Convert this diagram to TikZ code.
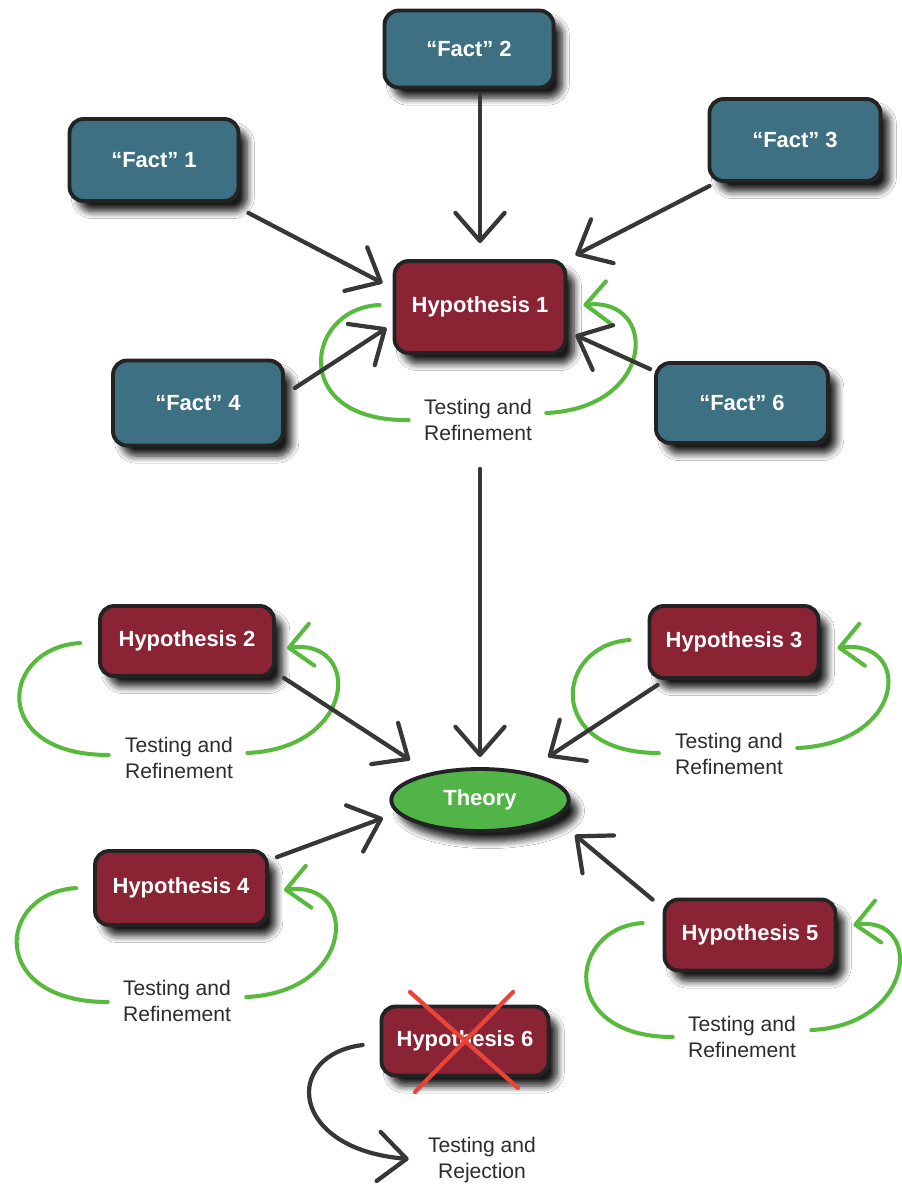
\documentclass[tikz,border=0pt]{standalone}
\usepackage{fontspec}
\setmainfont{Liberation Sans}
\usetikzlibrary{arrows.meta,shapes.geometric,calc,shadows.blur}
\definecolor{factc}{RGB}{61,112,130}
\definecolor{hypc}{RGB}{138,36,52}
\definecolor{theoc}{RGB}{80,180,70}
\definecolor{loopc}{RGB}{88,186,60}
\definecolor{bordc}{RGB}{35,35,35}
\definecolor{arrc}{RGB}{55,55,55}
\definecolor{txtc}{RGB}{45,45,45}
\definecolor{xred}{RGB}{232,68,55}
\tikzset{
  shad/.style={blur shadow={shadow xshift=5pt,shadow yshift=-6pt,shadow blur radius=4pt,shadow blur steps=8,shadow opacity=90}},
  box/.style={rounded corners=8pt, draw=bordc, line width=2.2pt, text=white,
    font=\bfseries\fontsize{12.5}{14}\selectfont, shad},
  fact/.style={box, fill=factc},
  hyp/.style={box, fill=hypc},
  theo/.style={ellipse, draw=bordc, line width=2.2pt, fill=theoc, text=white,
    font=\bfseries\fontsize{12.5}{14}\selectfont, shad},
  lbl/.style={align=center, inner sep=0pt, text=txtc, font=\fontsize{12}{14.5}\selectfont},
  blk/.style={draw=arrc, line width=2.4pt, line cap=round, -{Straight Barb[length=16pt,width=28pt,round]}},
  grn/.style={draw=loopc, line width=2.3pt, line cap=round},
  grnar/.style={grn, -{Straight Barb[length=13pt,width=24pt,round]}},
  xline/.style={draw=xred, line width=2.4pt, line cap=round}
}
\begin{document}
\begin{tikzpicture}[x=0.02cm,y=-0.02cm]
\useasboundingbox (0,0) rectangle (902,1184);
\fill[white] (0,0) rectangle (902,1184);
% nodes
\node[fact, minimum width=3.38cm, minimum height=1.64cm] (f1) at (154,160) {“Fact” 1};
\node[fact, minimum width=3.38cm, minimum height=1.54cm] (f2) at (469,49) {“Fact” 2};
\node[fact, minimum width=3.42cm, minimum height=1.64cm] (f3) at (795,140) {“Fact” 3};
\node[fact, minimum width=3.40cm, minimum height=1.70cm] (f4) at (198,403) {“Fact” 4};
\node[fact, minimum width=3.44cm, minimum height=1.60cm] (f6) at (742,403) {“Fact” 6};
\node[hyp, minimum width=3.42cm, minimum height=1.84cm] (h1) at (480,307) {Hypothesis 1};
\node[hyp, minimum width=3.48cm, minimum height=1.40cm] (h2) at (187,641) {Hypothesis 2};
\node[hyp, minimum width=3.38cm, minimum height=1.44cm] (h3) at (734,642) {Hypothesis 3};
\node[hyp, minimum width=3.44cm, minimum height=1.48cm] (h4) at (181,888) {Hypothesis 4};
\node[hyp, minimum width=3.42cm, minimum height=1.42cm] (h5) at (750,935) {Hypothesis 5};
\node[hyp, minimum width=3.34cm, minimum height=1.38cm] (h6) at (465,1041) {Hypothesis 6};
\node[theo, minimum width=3.55cm, minimum height=1.24cm] (th) at (480,800) {Theory};
% labels
\node[lbl] (t1) at (478,420) {Testing and\\Refinement};
\node[lbl] (t2) at (179,758) {Testing and\\Refinement};
\node[lbl] (t3) at (729,754) {Testing and\\Refinement};
\node[lbl] (t4) at (177,1001) {Testing and\\Refinement};
\node[lbl] (t5) at (742,1037) {Testing and\\Refinement};
\node[lbl] (t6) at (482,1160) {Testing and\\Rejection};
% green loops
\draw[grn] ($(h1.west)+(-13,-2)$) .. controls +(-75,3) and +(-120,2) .. ($(t1.west)+(-15,0)$);
\draw[grnar] ($(t1.east)+(14,-7)$) .. controls +(110,-5) and +(75,-8) .. ($(h1.east)+(16,-2)$);
\draw[grn] ($(h2.west)+(-18,2)$) .. controls +(-80,5) and +(-120,0) .. ($(t2.west)+(-16,-3)$);
\draw[grnar] ($(t2.east)+(14,-5)$) .. controls +(110,-5) and +(75,-10) .. ($(h2.east)+(11,7)$);
\draw[grn] ($(h3.west)+(-18,-2)$) .. controls +(-75,5) and +(-115,0) .. ($(t3.west)+(-16,-1)$);
\draw[grnar] ($(t3.east)+(14,-6)$) .. controls +(110,-5) and +(75,-10) .. ($(h3.east)+(17,6)$);
\draw[grn] ($(h4.west)+(-17,0)$) .. controls +(-80,5) and +(-120,0) .. ($(t4.west)+(-15,1)$);
\draw[grnar] ($(t4.east)+(15,-4)$) .. controls +(110,-5) and +(75,-10) .. ($(h4.east)+(15,2)$);
\draw[grn] ($(h5.west)+(-20,-12)$) .. controls +(-75,5) and +(-115,0) .. ($(t5.west)+(-15,0)$);
\draw[grnar] ($(t5.east)+(15,-7)$) .. controls +(105,-5) and +(70,-10) .. ($(h5.east)+(16,-10)$);
% black arrows to hypothesis 1
\draw[blk] ($(f1.south east)+(8,10)$) -- ($(h1.north west)+(-10,24)$);
\draw[blk] ($(f2.south)+(11,6)$) -- ($(h1.north)+(0,-16)$);
\draw[blk] ($(f3.south west)+(2,3)$) -- ($(h1.north east)+(8,-4)$);
\draw[blk] ($(f4.east)+(10,-15)$) -- ($(h1.west)+(-6,21)$);
\draw[blk] ($(f6.north west)+(-4,8)$) -- ($(h1.east)+(8,28)$);
% black arrows to theory
\draw[blk] ($(t1.south)+(2,28)$) -- ($(th.center)+(0,-43)$);
\draw[blk] ($(h2.south east)+(8,0)$) -- ($(th.center)+(-70,-40)$);
\draw[blk] ($(h3.south west)+(10,5)$) -- ($(th.center)+(68,-43)$);
\draw[blk] ($(h4.north east)+(8,8)$) -- ($(th.center)+(-97,18)$);
\draw[blk] ($(h5.north west)+(-10,2)$) -- ($(th.center)+(95,35)$);
% rejection
\draw[blk] ($(h6.west)+(-17,4)$) .. controls +(-80,10) and +(-120,-10) .. ($(t6.west)+(-19,-1)$);
\draw[xline] ($(h6.center)+(-55,-49)$) -- ($(h6.center)+(53,47)$);
\draw[xline] ($(h6.center)+(48,-49)$) -- ($(h6.center)+(-50,51)$);
\end{tikzpicture}
\end{document}
